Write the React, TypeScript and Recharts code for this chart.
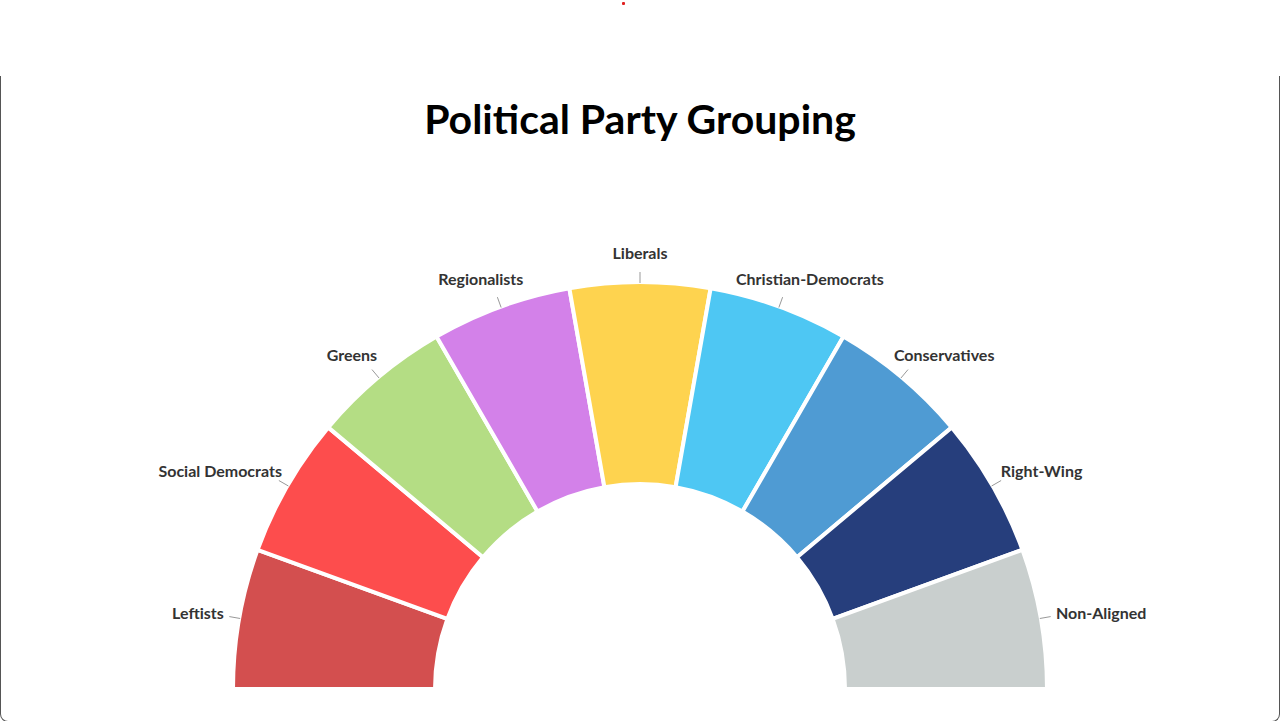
import { Pie, PieChart, Cell } from "recharts"

const groups = [
  "Leftists",
  "Social Democrats",
  "Greens",
  "Regionalists",
  "Liberals",
  "Christian-Democrats",
  "Conservatives",
  "Right-Wing",
  "Non-Aligned",
]
const shares = [1, 1, 1, 1, 1, 1, 1, 1, 1]
const colors = [
  "#d34f4f",
  "#fd4d4d",
  "#b4dd84",
  "#d381e9",
  "#fed34f",
  "#4ec7f3",
  "#4f9bd3",
  "#263e7c",
  "#c9cfce",
]

const data = groups.map((name, i) => ({ name, value: shares[i] }))

const LABEL_FONT = "700 16px Lato"
const RAD = Math.PI / 180

let ctx: CanvasRenderingContext2D | null = null
function textWidth(s: string) {
  if (!ctx) ctx = document.createElement("canvas").getContext("2d")
  if (!ctx) return s.length * 8
  ctx.font = LABEL_FONT
  return ctx.measureText(s).width
}

function renderLabel(props: any) {
  const { cx, cy, midAngle, outerRadius, name } = props
  const cos = Math.cos(-midAngle * RAD)
  const sin = Math.sin(-midAngle * RAD)
  const x1 = cx + (outerRadius - 1) * cos
  const y1 = cy + (outerRadius - 1) * sin
  const x2 = cx + (outerRadius + 10) * cos
  const y2 = cy + (outerRadius + 10) * sin
  const w = textWidth(name)
  // label box shifted so its near edge faces the slice
  const tx = cx + (outerRadius + 16) * cos + (w * cos) / 2
  const ty = cy + (outerRadius + 29) * sin - 1
  return (
    <g>
      <line x1={x1} y1={y1} x2={x2} y2={y2} stroke="#999" strokeWidth={1} />
      <text
        x={tx}
        y={ty}
        textAnchor="middle"
        dominantBaseline="central"
        fill="#333"
        style={{ font: LABEL_FONT }}
      >
        {name}
      </text>
    </g>
  )
}

export default function App() {
  return (
    <div style={{ position: "absolute", left: 0, top: 0, width: 1280, height: 721, background: "#fff", overflow: "hidden" }}>
      <div style={{ position: "absolute", left: 622, top: 2, width: 3, height: 3, background: "#e02020", borderRadius: 1 }} />
      <div
        style={{
          position: "absolute",
          left: 0,
          top: 76,
          width: 1278,
          height: 645,
          borderLeft: "1px solid #555",
          borderRight: "1px solid #555",
          borderBottom: "1px solid #555",
          borderBottomLeftRadius: 8,
          borderBottomRightRadius: 8,
        }}
      />
      <div
        style={{
          position: "absolute",
          left: 0,
          top: 94,
          width: 1280,
          textAlign: "center",
          fontFamily: "Lato, sans-serif",
          fontWeight: 700,
          fontSize: 41,
          color: "#000",
        }}
      >
        Political Party Grouping
      </div>
      <div style={{ position: "absolute", left: 0, top: 0 }}>
        <PieChart width={1280} height={721} margin={{ top: 0, right: 0, bottom: 0, left: 0 }}>
          <Pie
            data={data}
            dataKey="value"
            nameKey="name"
            cx={640}
            cy={689}
            startAngle={180}
            endAngle={0}
            innerRadius={205}
            outerRadius={407}
            stroke="#fff"
            strokeWidth={4}
            label={renderLabel}
            labelLine={false}
            isAnimationActive={false}
          >
            {data.map((d, i) => (
              <Cell key={d.name} fill={colors[i]} />
            ))}
          </Pie>
        </PieChart>
      </div>
    </div>
  )
}
